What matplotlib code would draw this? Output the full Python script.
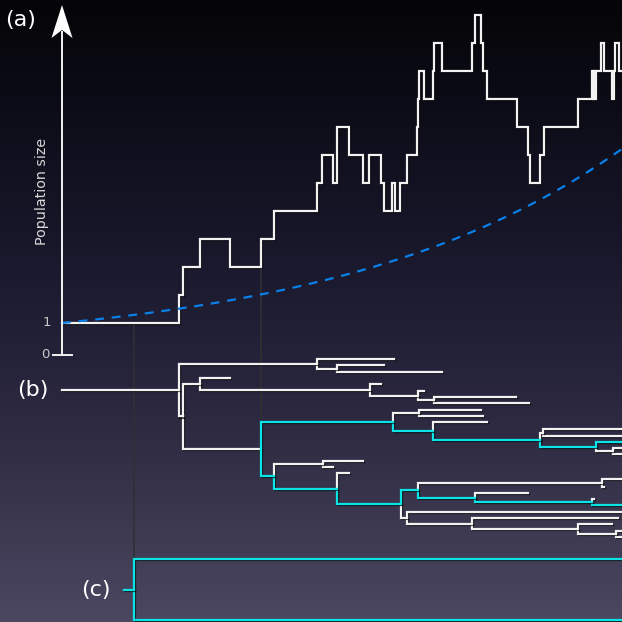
import numpy as np
import matplotlib.pyplot as plt
import matplotlib.patheffects as pe
from matplotlib.colors import LinearSegmentedColormap
from matplotlib.patches import Polygon

# population trajectory: jump times and size after each jump
pop_t = [62, 179, 183, 200, 230, 261, 274, 317, 322, 333, 337, 349, 363, 369,
         381, 384, 392, 395, 400, 407, 417, 418, 419, 424, 433, 434, 442, 472,
         475, 481, 483, 487, 517, 528, 530, 540, 544, 578, 592, 593, 594, 595,
         596, 601, 604, 612, 614, 615, 619]
pop_n = [1, 2, 3, 4, 3, 4, 5, 6, 7, 6, 8, 7, 6, 7,
         6, 5, 6, 5, 6, 7, 8, 9, 10, 9, 10, 11, 10, 11,
         12, 11, 10, 9, 8, 7, 6, 7, 8, 9, 10, 9, 10, 9,
         10, 11, 10, 9, 10, 11, 10]
growth_rate = 0.00353
t_end = 622

# genealogy: internal node = (time, [children]), tip = (time, row, sampled)
E = 640  # still alive at the present
tree_b = (179, [
    (317, [(394, 359, 0),
           (337, [(384, 365, 0), (442, 372, 0)])]),
    (183, [
        (200, [(230, 378, 0),
               (370, [(381, 384, 0),
                      (418, [(424, 391, 0),
                             (434, [(516, 397, 0), (529, 403, 0)])])])]),
        (261, [
            (393, [(419, [(481, 410, 0), (483, 416, 0)]),
                   (433, [(487, 422, 0),
                          (540, [(543, [(E, 429, 0), (E, 436, 0)]),
                                 (596, [(E, 442, 1),
                                        (613, [(E, 448, 0), (E, 454, 0)])])])])]),
            (274, [(323, [(363, 461, 0), (333, 467, 0)]),
                   (337, [(349, 473, 0),
                          (401, [(418, [(602, [(E, 479, 0), (604, 487, 0)]),
                                        (475, [(528, 493, 0),
                                               (592, [(594, 499, 0), (E, 505, 1)])])]),
                                 (407, [(E, 512, 0),
                                        (472, [(618, 518, 0),
                                               (578, [(612, 524, 0),
                                                      (616, [(E, 531, 0), (E, 537, 0)])])])])])])]),
        ]),
    ]),
])
tree_b_origin = 62

# reconstructed tree of the two sampled lineages
tree_c = (134, [(E, 559, 1), (E, 620, 1)])
tree_c_origin = 124

# layout of the population panel
pop_base = 351
pop_unit = 28

WHITE = '#f2f2f2'
CYAN = '#0ae4e6'
BLUE = '#0a80e8'
shadow = [pe.SimpleLineShadow(offset=(0.8, -0.8), shadow_color='black', alpha=0.7),
          pe.Normal()]

fig = plt.figure(figsize=(6.22, 6.22), dpi=100)
ax = fig.add_axes([0, 0, 1, 1])
ax.set_xlim(0, 622)
ax.set_ylim(622, 0)
ax.axis('off')

# background gradient
bg = LinearSegmentedColormap.from_list('bg', [
    (0.0, '#050507'), (0.15, '#0b0b16'), (0.45, '#1b1a2f'),
    (0.7, '#2e2b42'), (1.0, '#4c4760')])
ax.imshow(np.linspace(0, 1, 256)[:, None], cmap=bg, aspect='auto',
          extent=(0, 622, 622, 0), zorder=0)


def pop_y(n):
    return pop_base - pop_unit * np.asarray(n, dtype=float)


def count_sampled(node):
    if len(node) == 3:
        return node[2]
    return sum(count_sampled(c) for c in node[1])


def draw_tree(node, total):
    # returns the row of the node, drawing its subtree as it goes
    if len(node) == 3:
        return node[1]
    ys = [draw_tree(c, total) for c in node[1]]
    y = (ys[0] + ys[-1]) / 2
    for c, cy in zip(node[1], ys):
        k = count_sampled(c)
        col = CYAN if 0 < k < total or (total == k and len(c) == 3) else WHITE
        ax.plot([node[0], node[0], min(c[0], t_end + 5)], [y, cy, cy],
                color=col, lw=1.6, solid_joinstyle='miter',
                path_effects=shadow, zorder=4 + (col == CYAN))
    return y


# vertical guide lines linking events across panels
ax.plot([134, 134], [pop_y(1), 559], color='#303034', lw=1.2, zorder=2)
ax.plot([261, 261], [pop_y(3), 422], color='#303034', lw=1.2, zorder=2)

# population trajectory and its expectation
tt = pop_t + [t_end]
nn = pop_n + [pop_n[-1]]
ax.plot(tt, pop_y(nn), drawstyle='steps-post', color=WHITE, lw=1.6,
        solid_joinstyle='miter', path_effects=shadow, zorder=5)
tx = np.linspace(pop_t[0], t_end, 300)
ax.plot(tx, pop_y(np.exp(growth_rate * (tx - pop_t[0]))), color=BLUE, lw=1.6,
        dashes=(4, 3.5), zorder=6)

# population axis with arrow head
ax.plot([62, 62], [pop_y(0) + 4, 32], color=WHITE, lw=1.4, zorder=6)
ax.plot([53, 72], [pop_y(0) + 4, pop_y(0) + 4], color=WHITE, lw=1.4, zorder=6)
ax.add_patch(Polygon([(62, 5), (72.5, 38), (62, 30), (51.5, 38)], closed=True,
                     facecolor='white', edgecolor='none', zorder=7))
ax.text(47, pop_y(1), '1', color='#c8c8c8', fontsize=9.5, ha='center', va='center')
ax.text(45, pop_y(0) + 4, '0', color='#c8c8c8', fontsize=9.5, ha='center', va='center')
ax.text(42, 191, 'Population size', color='#d8d8d8', fontsize=10.3,
        rotation=90, ha='center', va='center')

# tree (b): the full genealogy
root_y = draw_tree(tree_b, count_sampled(tree_b))
ax.plot([tree_b_origin, tree_b[0]], [root_y, root_y], color=WHITE, lw=1.6,
        path_effects=shadow, zorder=4)

# tree (c): the sampled genealogy
root_c = draw_tree(tree_c, 3)
ax.plot([tree_c_origin, tree_c[0]], [root_c, root_c], color=CYAN, lw=1.6,
        path_effects=shadow, zorder=5)

ax.text(5, 20, '(a)', color='white', fontsize=16, va='center', ha='left')
ax.text(17, 390, '(b)', color='white', fontsize=16, va='center', ha='left')
ax.text(81, 590, '(c)', color='white', fontsize=16, va='center', ha='left')

fig.savefig('out.png', dpi=100)
